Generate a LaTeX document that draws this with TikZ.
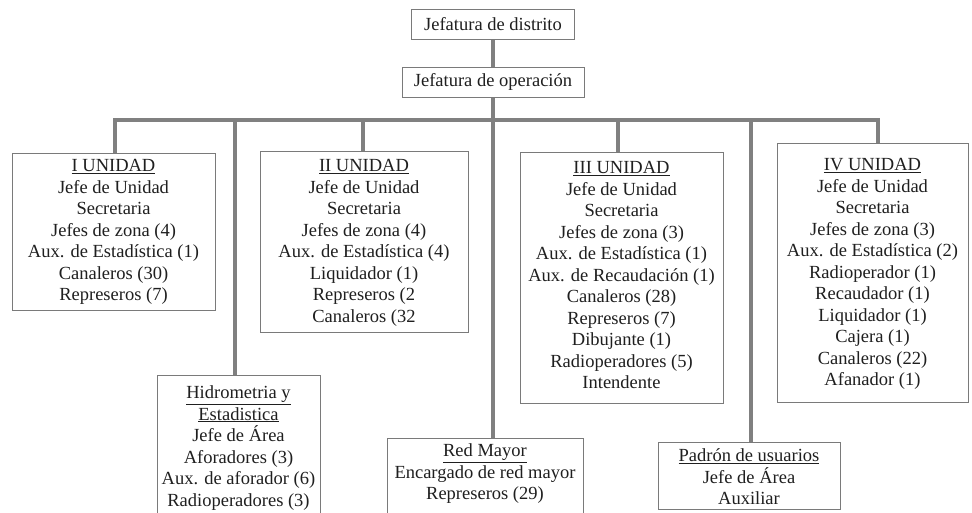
\documentclass[tikz,border=0pt]{standalone}
\usepackage{fontspec}
\setmainfont{Liberation Serif}
\newcommand{\bxt}[4]{\parbox[c][#2][t]{#1}{\centering\rule{0pt}{#3}#4\par}}
\begin{document}
\begin{tikzpicture}[x=1pt,y=-1pt,
  txt/.style={font=\fontsize{18.5}{21.5}\selectfont, text=black!88},
  boxnode/.style={txt, draw=black!52, line width=1pt, inner sep=0pt, fill=white, anchor=north},
  topbox/.style={txt, draw=black!52, line width=1pt, inner sep=0pt, fill=white, minimum height=30pt, align=center},
  conn/.style={draw=black!50, line width=4pt, line join=miter, line cap=rect}]
\useasboundingbox (0,0) rectangle (972,512);
\clip (0,0) rectangle (972,512);

% coordinates on the bus
\coordinate (bI) at (115,120);
\coordinate (bH) at (234.5,120);
\coordinate (bII) at (363,120);
\coordinate (bIII) at (618,120);
\coordinate (bP) at (751,120);
\coordinate (bIV) at (878,120);

% connectors first (boxes drawn on top)
\node[topbox, minimum width=163pt] (dist) at (493,24) {Jefatura de distrito};
\node[topbox, minimum width=182pt] (oper) at (493,82) {Jefatura de operación};

\node[boxnode] (u1) at (113.5,153) {\bxt{203pt}{157pt}{18pt}{\underline{I UNIDAD}\\Jefe de Unidad\\Secretaria\\Jefes de zona (4)\\Aux. de Estadística (1)\\Canaleros (30)\\Represeros (7)}};
\node[boxnode] (u2) at (364,151) {\bxt{208pt}{181pt}{20pt}{\underline{II UNIDAD}\\Jefe de Unidad\\Secretaria\\Jefes de zona (4)\\Aux. de Estadística (4)\\Liquidador (1)\\Represeros (2\\Canaleros (32}};
\node[boxnode] (u3) at (621.5,152) {\bxt{203pt}{251pt}{21pt}{\underline{III UNIDAD}\\Jefe de Unidad\\Secretaria\\Jefes de zona (3)\\Aux. de Estadística (1)\\Aux. de Recaudación (1)\\Canaleros (28)\\Represeros (7)\\Dibujante (1)\\Radioperadores (5)\\Intendente}};
\node[boxnode] (u4) at (872.5,143) {\bxt{191pt}{259pt}{27pt}{\underline{IV UNIDAD}\\Jefe de Unidad\\Secretaria\\Jefes de zona (3)\\Aux. de Estadística (2)\\Radioperador (1)\\Recaudador (1)\\Liquidador (1)\\Cajera (1)\\Canaleros (22)\\Afanador (1)}};
\node[boxnode] (hid) at (238.5,375) {\bxt{163pt}{150pt}{23pt}{\underline{Hidrometria y}\\\underline{Estadistica}\\Jefe de Área\\Aforadores (3)\\Aux. de aforador (6)\\Radioperadores (3)}};
\node[boxnode] (red) at (485,438) {\bxt{196pt}{90pt}{18pt}{\underline{Red Mayor}\\Encargado de red mayor\\Represeros (29)}};
\node[boxnode] (pad) at (749,442) {\bxt{182pt}{67pt}{19pt}{\underline{Padrón de usuarios}\\Jefe de Área\\Auxiliar}};

\begin{scope}[on background layer/.try]
\end{scope}

% connectors
\draw[conn, line cap=butt] (dist.south) -- (oper.north);
\draw[conn, line cap=butt] (oper.south) -- (oper.south |- red.north);
\draw[conn, line cap=butt] (bI |- u1.north) -- (bI) -- (bIV) -- (bIV |- u4.north);
\draw[conn, line cap=butt] (bH) -- (bH |- hid.north);
\draw[conn, line cap=butt] (bII) -- (bII |- u2.north);
\draw[conn, line cap=butt] (bIII) -- (bIII |- u3.north);
\draw[conn, line cap=butt] (bP) -- (bP |- pad.north);
\end{tikzpicture}
\end{document}
